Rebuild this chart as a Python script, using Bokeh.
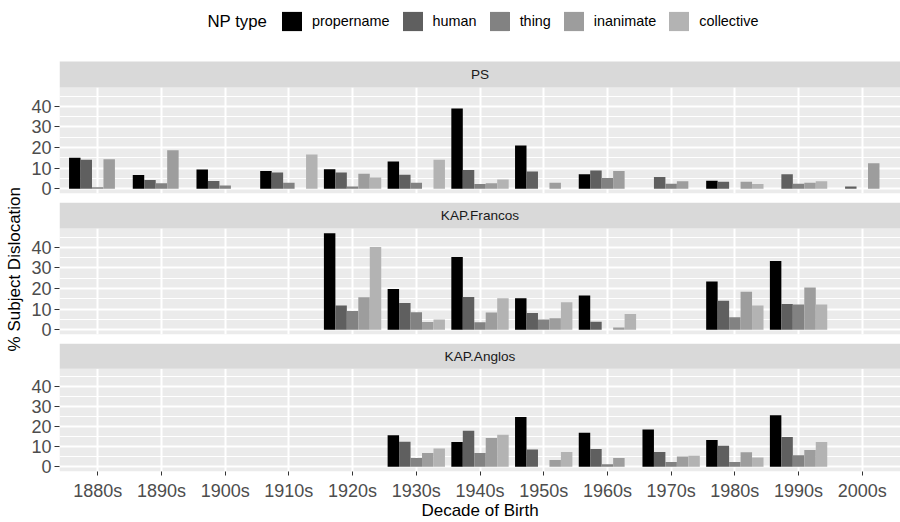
import math
from bokeh.plotting import figure
from bokeh.models import (FactorRange, Range1d, ColumnDataSource, FixedTicker,
                          Legend, LegendItem, Label, BoxAnnotation)
from bokeh.transform import dodge
from bokeh.layouts import column, row
from bokeh.embed import file_html
from bokeh.resources import INLINE

# ---------------- data ----------------
decades = ["1880s", "1890s", "1900s", "1910s", "1920s", "1930s", "1940s",
           "1950s", "1960s", "1970s", "1980s", "1990s", "2000s"]
np_types = ["propername", "human", "thing", "inanimate", "collective"]
np_colors = ["#000000", "#5F5F5F", "#828282", "#9D9D9D", "#B3B3B3"]
panel_names = ["PS", "KAP.Francos", "KAP.Anglos"]

N = None
ps_propername = [15.0, 6.7, 9.3, 8.6, 9.4, 13.2, 38.9, 21.0, 7.0, N, 3.9, N, N]
ps_human      = [14.0, 4.2, 3.7, 7.8, 7.8, 6.8, 9.1, 8.3, 8.8, 5.7, 3.4, 7.0, 1.1]
ps_thing      = [0.65, 2.6, 1.5, 2.9, 1.0, 2.9, 2.3, N, 5.2, 2.4, N, 2.4, N]
ps_inanimate  = [14.3, 18.7, N, N, 7.2, N, 2.6, 2.9, 8.6, 3.6, 3.4, 2.9, 12.3]
ps_collective = [N, N, N, 16.6, 5.4, 14.1, 4.4, N, N, N, 2.3, 3.6, N]

fr_propername = [N, N, N, N, 46.8, 19.8, 35.3, 15.3, 16.6, N, 23.4, 33.3, N]
fr_human      = [N, N, N, N, 11.7, 13.0, 15.9, 8.1, 3.9, N, 14.0, 12.5, N]
fr_thing      = [N, N, N, N, 9.1, 8.5, 3.6, 5.0, N, N, 6.0, 12.2, N]
fr_inanimate  = [N, N, N, N, 15.8, 3.7, 8.3, 5.5, 1.1, N, 18.4, 20.5, N]
fr_collective = [N, N, N, N, 40.2, 5.0, 15.3, 13.3, 7.6, N, 11.7, 12.2, N]

an_propername = [N, N, N, N, N, 15.8, 12.4, 25.0, 17.1, 18.7, 13.4, 25.8, N]
an_human      = [N, N, N, N, N, 12.6, 18.1, 8.7, 8.9, 7.4, 10.6, 15.0, N]
an_thing      = [N, N, N, N, N, 4.4, 6.9, N, 1.3, 2.4, 2.4, 5.8, N]
an_inanimate  = [N, N, N, N, N, 6.9, 14.5, 3.4, 4.4, 5.2, 7.3, 8.4, N]
an_collective = [N, N, N, N, N, 9.2, 16.1, 7.4, N, 5.6, 4.7, 12.4, N]

y_ticks = [0, 10, 20, 30, 40]
y_minor = [5, 15, 25, 35, 45]

panels = [
    [ps_propername, ps_human, ps_thing, ps_inanimate, ps_collective],
    [fr_propername, fr_human, fr_thing, fr_inanimate, fr_collective],
    [an_propername, an_human, an_thing, an_inanimate, an_collective],
]

# ---------------- styling / layout ----------------
FONT = "Liberation Sans"
all_vals = [v for pan in panels for s in pan for v in s if v is not None]
ymax = max(all_vals)
ylo, yhi = -0.05 * ymax, 1.05 * ymax
PANEL_PX, STRIP_PX = 106, 26
px_per_unit = PANEL_PX / (yhi - ylo)
strip_units = STRIP_PX / px_per_unit
ytop = yhi + strip_units

x_range = FactorRange(factors=decades, range_padding=0.1, range_padding_units="absolute")
offsets = [-0.36, -0.18, 0.0, 0.18, 0.36]
bar_w = 0.18

YLAB_W = 28
MAIN_W = 900 - YLAB_W
heights = [200, 141, 181]
tops = [0, 2, 2]
bottoms = [7, 7, 47]
frame_px = [h - t - b for h, t, b in zip(heights, tops, bottoms)]

# y-axis title on the left (own narrow canvas spanning all panels)
ylab_fig = figure(width=YLAB_W, height=522, x_range=Range1d(0, 1), y_range=Range1d(0, 1),
                  output_backend="svg", toolbar_location=None, min_border=0,
                  outline_line_color=None, background_fill_color="white",
                  border_fill_color="white")
ylab_fig.axis.visible = False
ylab_fig.grid.visible = False
ylab_fig.add_layout(Label(x=14, y=522 - 268.7, x_units="screen", y_units="screen",
                          text="% Subject Dislocation", angle=math.pi / 2,
                          text_align="center", text_baseline="middle",
                          text_font=FONT, text_font_size="17px", text_color="black"))

figs = []
for k, name in enumerate(panel_names):
    y_end = ylo + frame_px[k] / px_per_unit
    p = figure(width=MAIN_W, height=heights[k], x_range=x_range,
               y_range=Range1d(ylo, y_end), output_backend="svg",
               toolbar_location=None, min_border_left=58 - YLAB_W, min_border_right=0,
               min_border_top=tops[k], min_border_bottom=bottoms[k],
               background_fill_color="white", border_fill_color="white",
               outline_line_color=None)

    # panel background (drawn below grid and bars)
    p.add_layout(BoxAnnotation(top=yhi, fill_color="#EBEBEB", fill_alpha=1.0,
                               line_color=None, level="image"))

    renderers = []
    for j, t in enumerate(np_types):
        vals = panels[k][j]
        xs = [d for d, v in zip(decades, vals) if v is not None]
        ys = [v for v in vals if v is not None]
        src = ColumnDataSource(dict(decade=xs, value=ys))
        r = p.vbar(x=dodge("decade", offsets[j], range=x_range), top="value",
                   bottom=0, width=bar_w, source=src,
                   fill_color=np_colors[j], line_color=None)
        renderers.append(r)

    # grids
    p.xgrid.grid_line_color = "white"
    p.xgrid.grid_line_width = 2
    p.ygrid.grid_line_color = "white"
    p.ygrid.grid_line_width = 2
    p.ygrid.minor_grid_line_color = "white"
    p.ygrid.minor_grid_line_width = 1

    # y axis
    p.yaxis.ticker = FixedTicker(ticks=y_ticks, minor_ticks=y_minor)
    p.yaxis.axis_line_color = None
    p.yaxis.major_tick_line_color = "#333333"
    p.yaxis.major_tick_out = 5
    p.yaxis.major_tick_in = 0
    p.yaxis.minor_tick_line_color = None
    p.yaxis.major_label_standoff = 3
    p.yaxis.major_label_text_font = FONT
    p.yaxis.major_label_text_font_size = "18px"
    p.yaxis.major_label_text_color = "#4D4D4D"

    # x axis
    p.xaxis.axis_line_color = None
    p.xaxis.major_tick_line_color = "#333333"
    p.xaxis.major_tick_out = 4
    p.xaxis.major_tick_in = 0
    p.xaxis.major_label_standoff = 5
    p.xaxis.major_label_text_font = FONT
    p.xaxis.major_label_text_font_size = "18px"
    p.xaxis.major_label_text_color = "#4D4D4D"
    if k == 2:
        p.xaxis.axis_label = "Decade of Birth"
        p.xaxis.axis_label_text_font = FONT
        p.xaxis.axis_label_text_font_size = "17px"
        p.xaxis.axis_label_text_font_style = "normal"
        p.xaxis.axis_label_text_color = "black"
        p.xaxis.axis_label_standoff = -3
    else:
        p.xaxis.visible = False

    # facet strip
    p.add_layout(BoxAnnotation(bottom=yhi, top=ytop, fill_color="#D9D9D9",
                               fill_alpha=1.0, line_color=None))
    p.add_layout(Label(x=6.5, y=yhi + strip_units / 2, text=name,
                       text_align="center", text_baseline="middle",
                       text_font=FONT, text_font_size="13.6px",
                       text_color="#1A1A1A"))

    if k == 0:
        fb = frame_px[0]  # frame height in px
        legend = Legend(items=[LegendItem(label=t, renderers=[r])
                               for t, r in zip(np_types, renderers)],
                        orientation="horizontal", location=(278 - 58, fb - 33),
                        glyph_width=25, glyph_height=24, label_standoff=8, spacing=10,
                        padding=0, margin=0, label_width=0, label_height=24,
                        border_line_color=None, background_fill_alpha=0,
                        label_text_font=FONT, label_text_font_size="14.4px",
                        label_text_color="black", label_text_baseline="middle")
        p.add_layout(legend)
        p.add_layout(Label(x=206 - 58, y=fb - 21, x_units="screen", y_units="screen",
                           text="NP type", text_align="left", text_baseline="middle",
                           text_font=FONT, text_font_size="16.8px", text_color="black"))
    figs.append(p)

layout = row(ylab_fig, column(*figs, spacing=0), spacing=0)
open("out.html", "w").write(file_html(layout, INLINE))
